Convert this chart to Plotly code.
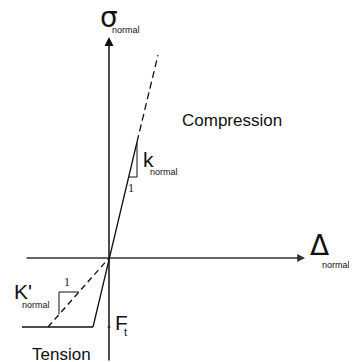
import plotly.graph_objects as go

# stress-displacement sketch, origin at the axes crossing
delta_axis = [-84, 196]
sigma_axis = [-104, 221]

# compression branch (stiffness k_normal)
comp_solid_delta = [-16, 28]
comp_solid_sigma = [-69, 116]
comp_dash_delta = [28, 49]
comp_dash_sigma = [116, 203]

# tension branch (cut off at F_t, stiffness k'_normal)
ft_level = -69
tens_flat_delta = [-87, -16]
tens_dash_delta = [-61, 0]
tens_dash_sigma = [-69, 0]

# slope triangles
tri_k_delta = [20, 28, 28]
tri_k_sigma = [81, 81, 115]
tri_kp_delta = [-50, -50, -30]
tri_kp_sigma = [-56, -34, -34]

INK = "#111"
SANS = "Liberation Sans, Arial, sans-serif"
SERIF = "Liberation Serif, serif"

fig = go.Figure()

def seg(x, y, width=1.3, dash="solid", color=INK):
    fig.add_trace(go.Scatter(x=x, y=y, mode="lines", hoverinfo="skip",
                             line=dict(color=color, width=width, dash=dash)))

seg(comp_solid_delta, comp_solid_sigma)
seg(comp_dash_delta, comp_dash_sigma, dash="7px,4px")
seg(tens_flat_delta, [ft_level, ft_level])
seg(tens_dash_delta, tens_dash_sigma, dash="6px,4px")
seg(tri_k_delta, tri_k_sigma, width=1)
seg(tri_kp_delta, tri_kp_sigma, width=1)
seg([-1.5, 1.5], [ft_level, ft_level], width=1)

# axes with arrow heads
fig.add_annotation(x=delta_axis[1], y=0, ax=delta_axis[0], ay=0,
                   xref="x", yref="y", axref="x", ayref="y",
                   showarrow=True, arrowhead=2, arrowsize=1.2,
                   arrowwidth=1.3, arrowcolor="#333", text="")
fig.add_annotation(x=0, y=sigma_axis[1], ax=0, ay=sigma_axis[0],
                   xref="x", yref="y", axref="x", ayref="y",
                   showarrow=True, arrowhead=2, arrowsize=1.2,
                   arrowwidth=1.5, arrowcolor=INK, text="")

def label(text, x, y, size, family=SANS):
    fig.add_annotation(x=x, y=y, text=text, showarrow=False,
                       xref="x", yref="y", xanchor="center", yanchor="middle",
                       font=dict(family=family, size=size, color=INK))

label("σ", 0, 241, 28, family="DejaVu Sans")
label("normal", 17, 228, 9)
label("Δ", 210, 13, 28, family="DejaVu Sans")
label("normal", 227, -7, 9)
label("Compression", 123, 138, 17)
label("k", 39, 99, 21)
label("normal", 55, 86, 9)
label("1", 22, 70, 12, family=SERIF)
label("K'", -86, -33, 21)
label("normal", -73, -47, 9)
label("1", -42, -24, 12, family=SERIF)
label("F", 12, -64, 21)
label("t", 16, -74, 11)
label("Tension", -48, -96, 17)

# page body has an 8px margin, so the figure is shrunk to fit the window
fig.update_layout(
    width=349, height=354,
    margin=dict(l=0, r=0, t=0, b=0),
    paper_bgcolor="white", plot_bgcolor="white",
    showlegend=False,
    xaxis=dict(range=[-101, 248], visible=False, fixedrange=True),
    yaxis=dict(range=[-104, 250], visible=False, fixedrange=True),
)

fig.write_html("out.html")
